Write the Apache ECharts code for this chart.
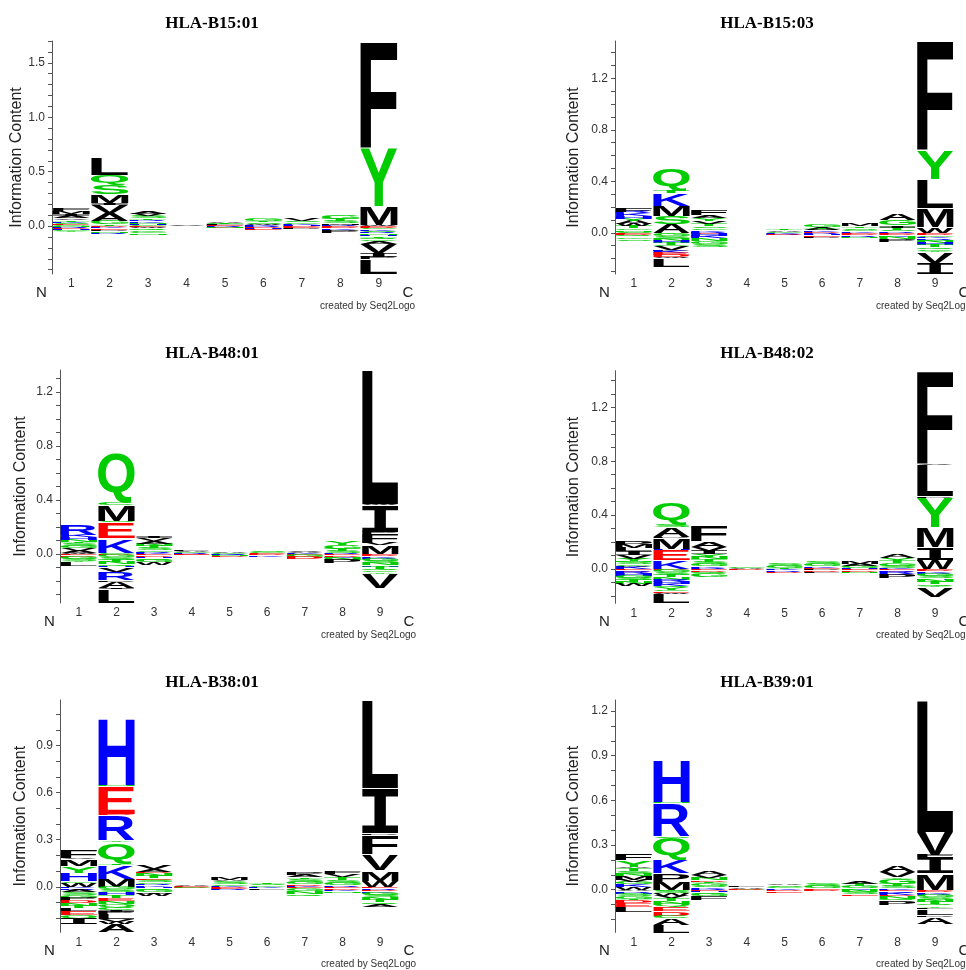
<!DOCTYPE html>
<html><head><meta charset="utf-8">
<script src="https://cdn.jsdelivr.net/npm/echarts@6/dist/echarts.min.js"></script>
<style>html,body{margin:0;padding:0;background:#fff}#c{width:966px;height:970px}</style>
</head><body><div id="c"></div>
<script>
// ---------------- data ----------------
const positions = ['1','2','3','4','5','6','7','8','9'];
const titles = ['HLA-B15:01','HLA-B15:03','HLA-B48:01','HLA-B48:02','HLA-B38:01','HLA-B39:01'];
const yMins = [-0.44, -0.32, -0.363, -0.255, -0.29, -0.286];
const yMaxs = [1.70, 1.49, 1.363, 1.472, 1.19, 1.274];
const labelTicks = [[0,0.5,1,1.5],[0,0.4,0.8,1.2],[0,0.4,0.8,1.2],[0,0.4,0.8,1.2],[0,0.3,0.6,0.9],[0,0.3,0.6,0.9,1.2]];
const allTicks = [
  [-0.4,-0.3,-0.2,-0.1,0,0.1,0.2,0.3,0.4,0.5,0.6,0.7,0.8,0.9,1,1.1,1.2,1.3,1.4,1.5,1.6,1.7],
  [-0.3,-0.2,-0.1,0,0.1,0.2,0.3,0.4,0.5,0.6,0.7,0.8,0.9,1,1.1,1.2,1.3,1.4],
  [-0.3,-0.2,-0.1,0,0.1,0.2,0.3,0.4,0.5,0.6,0.7,0.8,0.9,1,1.1,1.2,1.3],
  [-0.2,-0.1,0,0.1,0.2,0.3,0.4,0.5,0.6,0.7,0.8,0.9,1,1.1,1.2,1.3,1.4],
  [-0.2,-0.1,0,0.1,0.2,0.3,0.4,0.5,0.6,0.7,0.8,0.9,1,1.1],
  [-0.2,-0.1,0,0.1,0.2,0.3,0.4,0.5,0.6,0.7,0.8,0.9,1,1.1,1.2]
];
// letter stacks per position, listed outward from the zero line: [letter, bits]
const b1501Up = [
  [['G',.01],['E',.005],['S',.015],['K',.01],['T',.015],['V',.015],['A',.02],['I',.02],['M',.025],['F',.03]],
  [['T',.015],['G',.035],['A',.07],['V',.07],['I',.02],['M',.08],['S',.085],['Q',.095],['L',.16]],
  [['G',.01],['H',.01],['N',.012],['K',.015],['R',.01],['T',.015],['S',.018],['V',.02],['A',.03]],
  [['V',.005],['A',.005],['G',.005]],
  [['E',.008],['L',.008],['T',.007],['G',.01],['A',.012]],
  [['K',.01],['W',.01],['S',.015],['T',.015],['G',.02]],
  [['H',.01],['K',.01],['G',.015],['S',.015],['V',.02]],
  [['R',.01],['M',.015],['S',.02],['T',.02],['G',.035]],
  [['W',.01],['M',.17],['Y',.53],['F',.98]]
];
const b1501Down = [
  [['N',.01],['R',.008],['D',.006],['H',.008],['G',.01],['Y',.008]],
  [['D',.01],['K',.012],['E',.01],['P',.015],['N',.012],['R',.011]],
  [['E',.01],['W',.01],['Q',.015],['C',.015],['G',.015],['N',.015]],
  [['D',.004],['E',.003],['K',.003]],
  [['R',.007],['D',.006],['N',.007]],
  [['R',.01],['D',.01],['H',.01],['E',.01]],
  [['D',.01],['E',.01],['P',.01]],
  [['E',.01],['D',.01],['K',.015],['P',.025]],
  [['E',.008],['D',.008],['G',.015],['K',.01],['S',.015],['R',.01],['N',.015],['H',.012],['T',.015],['Q',.015],['C',.01],['A',.03],['V',.08],['I',.04],['P',.02],['L',.135]]
];
const b1503Up = [
  [['S',.01],['N',.01],['G',.015],['T',.015],['W',.015],['A',.03],['Y',.015],['H',.02],['K',.02],['R',.015],['F',.035]],
  [['A',.07],['S',.06],['M',.08],['K',.10],['T',.02],['Q',.17]],
  [['R',.01],['K',.012],['G',.015],['S',.015],['T',.02],['V',.02],['Y',.02],['A',.025],['F',.043]],
  [['V',.004],['A',.004],['G',.004]],
  [['G',.01],['A',.01],['T',.01]],
  [['D',.008],['K',.01],['A',.015],['T',.012],['G',.025]],
  [['K',.01],['G',.015],['S',.015],['T',.01],['M',.02]],
  [['R',.01],['S',.015],['T',.015],['I',.02],['G',.04],['A',.05]],
  [['W',.045],['M',.15],['L',.22],['Y',.225],['F',.85]]
];
const b1503Down = [
  [['E',.008],['D',.007],['Q',.015],['G',.015],['S',.015]],
  [['Y',.008],['G',.02],['S',.02],['N',.015],['H',.015],['T',.015],['C',.012],['V',.027],['P',.01],['K',.016],['E',.015],['D',.015],['W',.008],['L',.066]],
  [['E',.01],['H',.015],['K',.015],['N',.02],['G',.025],['S',.025]],
  [['D',.003],['E',.003]],
  [['K',.007],['R',.007],['D',.006]],
  [['R',.01],['H',.01],['E',.01],['P',.01]],
  [['E',.01],['D',.01],['R',.01],['N',.01]],
  [['E',.01],['D',.01],['K',.01],['N',.015],['P',.025]],
  [['E',.008],['D',.012],['G',.01],['K',.012],['R',.01],['S',.015],['N',.015],['H',.015],['T',.015],['Q',.015],['C',.012],['Y',.012],['V',.08],['I',.09]]
];
const b4801Up = [
  [['W',.01],['A',.015],['V',.02],['G',.015],['S',.02],['T',.01],['N',.015],['H',.02],['K',.015],['R',.075]],
  [['G',.01],['K',.105],['E',.12],['S',.01],['M',.12],['C',.015],['Q',.375]],
  [['K',.01],['R',.008],['G',.012],['S',.015],['T',.015],['N',.015],['A',.02],['V',.02],['I',.015]],
  [['R',.005],['G',.007],['A',.007],['L',.006]],
  [['G',.005],['A',.005]],
  [['E',.006],['G',.01],['S',.014]],
  [['K',.006],['A',.012],['V',.012]],
  [['R',.01],['S',.015],['T',.015],['G',.025],['Y',.025]],
  [['M',.065],['V',.015],['F',.07],['P',.015],['I',.195],['W',.01],['L',.99]]
];
const b4801Down = [
  [['E',.01],['D',.01],['G',.015],['S',.015],['Y',.01],['L',.03]],
  [['D',.01],['G',.015],['S',.02],['T',.015],['N',.015],['Q',.015],['H',.01],['V',.03],['Y',.01],['R',.055],['P',.012],['A',.045],['I',.008],['L',.1]],
  [['E',.01],['D',.01],['H',.01],['Q',.015],['G',.015],['W',.02]],
  [['D',.005],['E',.005]],
  [['R',.005],['K',.005],['N',.005],['D',.005]],
  [['D',.01],['K',.01]],
  [['E',.01],['G',.015],['D',.015]],
  [['E',.01],['D',.01],['K',.01],['N',.015],['P',.025]],
  [['E',.008],['D',.01],['K',.01],['R',.01],['G',.015],['S',.015],['N',.015],['H',.012],['T',.015],['Q',.015],['C',.012],['Y',.01],['V',.105]]
];
const b4802Up = [
  [['K',.015],['A',.01],['G',.01],['S',.015],['N',.01],['Y',.015],['V',.03],['I',.025],['L',.025],['M',.025],['P',.03]],
  [['K',.065],['E',.075],['H',.005],['M',.085],['P',.01],['A',.07],['S',.02],['Q',.16]],
  [['R',.01],['K',.01],['G',.015],['S',.02],['T',.02],['N',.015],['Y',.02],['I',.025],['V',.03],['A',.04],['F',.12]],
  [['A',.005],['G',.005]],
  [['T',.01],['G',.015],['S',.015]],
  [['E',.008],['K',.01],['G',.02],['S',.022]],
  [['H',.01],['G',.015],['A',.015],['M',.02]],
  [['K',.01],['S',.015],['G',.02],['T',.015],['Y',.02],['A',.03]],
  [['W',.07],['I',.095],['M',.145],['Y',.22],['P',.01],['L',.235],['V',.005],['F',.69]]
];
const b4802Down = [
  [['E',.01],['D',.01],['R',.015],['H',.015],['G',.015],['S',.015],['T',.015],['N',.015],['W',.02]],
  [['D',.01],['G',.015],['S',.02],['T',.015],['N',.02],['R',.015],['H',.015],['K',.015],['Q',.015],['Y',.015],['C',.01],['E',.01],['W',.01],['L',.065]],
  [['E',.01],['D',.01],['Q',.015],['G',.025]],
  [['D',.005]],
  [['K',.01],['R',.01],['D',.01]],
  [['P',.01],['D',.01],['L',.01]],
  [['E',.01],['D',.01],['N',.01]],
  [['E',.01],['D',.01],['R',.015],['K',.01],['P',.025]],
  [['E',.008],['D',.01],['K',.01],['R',.012],['G',.015],['S',.015],['H',.012],['N',.015],['T',.015],['Q',.015],['Y',.008],['V',.07]]
];
const b3801Up = [
  [['W',.025],['G',.01],['H',.05],['Y',.045],['M',.045],['V',.005],['F',.055]],
  [['M',.05],['K',.09],['T',.01],['Q',.135],['Y',.01],['R',.16],['D',.01],['E',.175],['N',.01],['H',.425]],
  [['K',.01],['R',.008],['G',.012],['S',.015],['E',.01],['T',.015],['N',.015],['D',.01],['A',.02],['V',.025]],
  [['E',.005],['A',.005]],
  [['K',.008],['G',.012],['S',.015],['A',.01],['M',.015]],
  [['G',.01],['S',.01],['T',.01]],
  [['K',.008],['D',.01],['G',.015],['S',.015],['T',.012],['A',.015],['P',.015]],
  [['R',.01],['G',.015],['S',.02],['T',.015],['V',.02],['F',.02]],
  [['W',.04],['M',.065],['V',.105],['F',.12],['P',.01],['I',.29],['L',.56]]
];
const b3801Down = [
  [['K',.01],['R',.01],['A',.015],['S',.015],['G',.02],['P',.015],['D',.02],['N',.015],['T',.015],['L',.02],['E',.025],['Q',.02],['I',.04]],
  [['G',.015],['S',.02],['H',.015],['T',.02],['E',.02],['N',.02],['Q',.02],['C',.015],['I',.015],['P',.015],['L',.03],['V',.02],['W',.015],['A',.05]],
  [['H',.008],['Q',.012],['G',.015],['I',.01],['W',.015]],
  [['D',.005],['G',.005]],
  [['D',.008],['E',.006],['R',.006]],
  [['K',.01],['L',.01]],
  [['E',.01],['G',.02],['N',.015],['Q',.015]],
  [['E',.01],['D',.01],['K',.01],['N',.01]],
  [['E',.008],['R',.01],['D',.01],['K',.01],['G',.015],['S',.015],['N',.015],['T',.015],['Q',.012],['A',.02]]
];
const b3901Up = [
  [['W',.015],['K',.02],['G',.015],['V',.015],['M',.025],['N',.015],['S',.02],['T',.02],['A',.01],['Y',.045],['F',.045]],
  [['M',.054],['P',.056],['K',.095],['Q',.145],['S',.01],['R',.22],['N',.01],['H',.28]],
  [['R',.008],['K',.008],['S',.012],['G',.015],['T',.012],['D',.012],['N',.013],['V',.02],['A',.03]],
  [['G',.008],['A',.007],['L',.005]],
  [['K',.008],['G',.012],['S',.01],['A',.01]],
  [['E',.008],['G',.015],['S',.017]],
  [['K',.01],['G',.015],['T',.015],['A',.02]],
  [['K',.01],['S',.015],['T',.015],['G',.035],['Y',.01],['V',.035],['A',.05]],
  [['M',.11],['I',.11],['F',.015],['V',.155],['L',.88]]
];
const b3901Down = [
  [['A',.01],['R',.01],['H',.01],['S',.015],['G',.015],['T',.01],['D',.02],['E',.025],['L',.035]],
  [['G',.01],['S',.015],['W',.015],['V',.015],['T',.02],['N',.02],['Q',.02],['E',.03],['D',.03],['C',.015],['A',.05],['L',.05]],
  [['E',.008],['H',.01],['Q',.012],['G',.015],['F',.025]],
  [['D',.005]],
  [['D',.01],['E',.01]],
  [['D',.01]],
  [['N',.015],['S',.015],['E',.01]],
  [['E',.008],['R',.012],['K',.015],['D',.01],['N',.015],['Q',.01],['P',.03]],
  [['E',.008],['D',.008],['K',.01],['R',.01],['G',.015],['S',.015],['N',.015],['T',.015],['Q',.012],['Y',.012],['F',.012],['L',.04],['P',.01],['A',.045]]
];
const ups = [b1501Up, b1503Up, b4801Up, b4802Up, b3801Up, b3901Up];
const downs = [b1501Down, b1503Down, b4801Down, b4802Down, b3801Down, b3901Down];

// ---------------- layout / style ----------------
const layout = [
  {left:52,  top:41,    width:346, height:233,   titleX:212, titleY:24,    nameGap:23.7},
  {left:615, top:41,    width:339, height:233,   titleX:767, titleY:24,    nameGap:33.5},
  {left:60,  top:370,   width:339, height:233,   titleX:212, titleY:353.3, nameGap:31.7},
  {left:615, top:370.7, width:339, height:232.6, titleX:767, titleY:353.3, nameGap:33.5},
  {left:60,  top:700,   width:339, height:232.3, titleX:212, titleY:682.7, nameGap:31.7},
  {left:615, top:700,   width:339, height:232.3, titleX:767, titleY:682.7, nameGap:33.5}
];
const BLACK='#000000', GREEN='#00cc00', BLUE='#0000ff', RED='#ff0000';
function colorOf(ch){
  if ('DE'.indexOf(ch)>=0) return RED;
  if ('KRH'.indexOf(ch)>=0) return BLUE;
  if ('GSTYCQN'.indexOf(ch)>=0) return GREEN;
  return BLACK;
}
const FONT = 'bold 100px "Liberation Sans"';
const FONT_I = 'bold 100px "Liberation Mono"';   // serifed capital I as in the logo
function fontOf(ch){ return ch === 'I' ? FONT_I : FONT; }
const mctx = document.createElement('canvas').getContext('2d');
mctx.textBaseline = 'middle'; mctx.textAlign = 'left';
const metrics = {};
'ACDEFGHIKLMNPQRSTVWY'.split('').forEach(ch => {
  mctx.font = fontOf(ch);
  const m = mctx.measureText(ch);
  metrics[ch] = {l:m.actualBoundingBoxLeft, r:m.actualBoundingBoxRight, a:m.actualBoundingBoxAscent, d:m.actualBoundingBoxDescent};
});

const grids=[], xAxes=[], yAxes=[], series=[], graphics=[];
for (let p=0; p<6; p++){
  const L = layout[p];
  grids.push({left:L.left, top:L.top, width:L.width, height:L.height, containLabel:false, outerBoundsMode:'none'});
  xAxes.push({type:'category', gridIndex:p, data:positions, boundaryGap:true,
    axisLine:{show:false, onZero:false}, axisTick:{show:false}, splitLine:{show:false},
    axisLabel:{fontSize:12, color:'#333', fontFamily:'Liberation Sans', margin:4}});
  yAxes.push({type:'value', gridIndex:p, min:yMins[p], max:yMaxs[p],
    name:'Information Content', nameLocation:'middle', nameGap:L.nameGap,
    nameTextStyle:{fontSize:16, color:'#222', fontFamily:'Liberation Sans'},
    axisLine:{show:true, lineStyle:{color:'#555', width:1}},
    axisTick:{show:true, length:4, customValues:allTicks[p], lineStyle:{color:'#555'}},
    axisLabel:{customValues:labelTicks[p], fontSize:12, color:'#333', fontFamily:'Liberation Sans', margin:7,
      formatter: v => Number(v).toFixed(1)},
    splitLine:{show:false}});
  // build stacked letter items
  const items=[], letters=[];
  for (let i=0;i<9;i++){
    let acc=0;
    ups[p][i].forEach(([ch,h]) => { items.push([i, acc, acc+h]); letters.push(ch); acc+=h; });
    acc=0;
    downs[p][i].forEach(([ch,h]) => { items.push([i, -acc-h, -acc]); letters.push(ch); acc+=h; });
  }
  series.push({type:'custom', xAxisIndex:p, yAxisIndex:p, data:items, silent:true, clip:false,
    encode:{x:0, y:[1,2]},
    renderItem:(params, api) => {
      const ch = letters[params.dataIndex];
      const idx = api.value(0);
      const pt = api.coord([idx, api.value(2)]);
      const pb = api.coord([idx, api.value(1)]);
      const bw = api.size([1,0])[0];
      const x0 = pt[0]-bw/2+0.5, x1 = pt[0]+bw/2-0.5;
      let yTop = Math.min(pt[1],pb[1]), yBot = Math.max(pt[1],pb[1]);
      let h = yBot-yTop;
      const gap = Math.min(0.8, h*0.06);
      yTop += gap; h -= gap;
      if (h < 0.15) return null;
      const m = metrics[ch];
      const sx = (x1-x0)/(m.l+m.r), sy = h/(m.a+m.d);
      return {type:'text', x:x0+m.l*sx, y:yTop+m.a*sy, scaleX:sx, scaleY:sy,
        style:{text:ch, font:fontOf(ch), fill:colorOf(ch), align:'left', verticalAlign:'middle', textAlign:'left', textVerticalAlign:'middle'}};
    }});
  const right = L.left+L.width, bottom = L.top+L.height;
  graphics.push({type:'text', x:L.titleX, y:L.titleY, style:{text:titles[p], font:'bold 17px "Liberation Serif"', fill:'#000', textAlign:'center', textVerticalAlign:'middle'}});
  graphics.push({type:'text', x:L.left-10.5, y:bottom+19, style:{text:'N', font:'15px "Liberation Sans"', fill:'#222', textAlign:'center', textVerticalAlign:'middle'}});
  graphics.push({type:'text', x:right+10, y:bottom+19, style:{text:'C', font:'15px "Liberation Sans"', fill:'#222', textAlign:'center', textVerticalAlign:'middle'}});
  graphics.push({type:'text', x:right-78, y:bottom+32, style:{text:'created by Seq2Logo', font:'10px "Liberation Sans"', fill:'#333', textAlign:'left', textVerticalAlign:'middle'}});
}
const chart = echarts.init(document.getElementById('c'));
chart.setOption({animation:false, backgroundColor:'#fff', grid:grids, xAxis:xAxes, yAxis:yAxes, series:series, graphic:graphics});
</script></body></html>
